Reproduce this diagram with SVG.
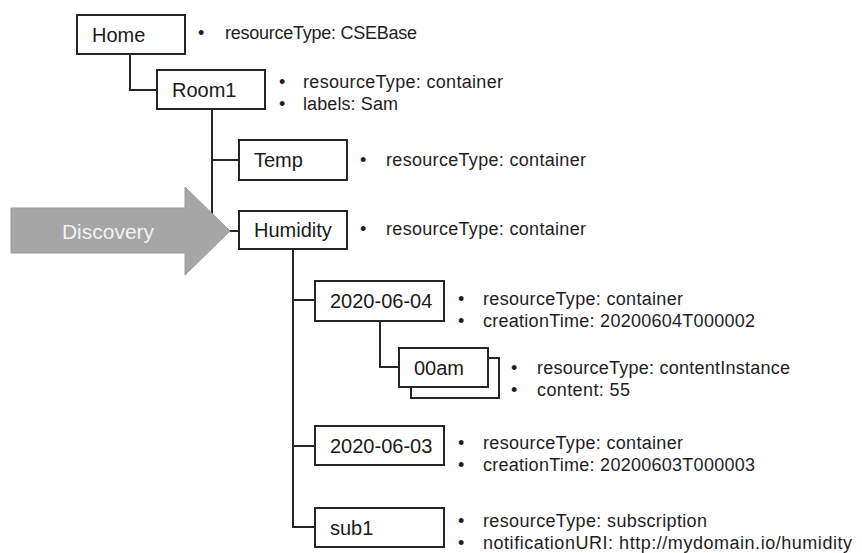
<svg xmlns="http://www.w3.org/2000/svg" width="862" height="553" viewBox="0 0 862 553">
<style>
.box{fill:#fff;stroke:#262626;stroke-width:2}
.lbl{font-family:"Liberation Sans",Arial,sans-serif;font-size:20px;fill:#1a1a1a}
.txt{font-family:"Liberation Sans",Arial,sans-serif;font-size:18px;fill:#1e1e1e}
.con{fill:none;stroke:#262626;stroke-width:2}
</style>
<rect width="862" height="553" fill="#fff"/>
<g id="connectors">
<path class="con" d="M130,54 V90 H157"/>
<path class="con" d="M212,109 V160 H239"/>
<path class="con" d="M212,160 V231 H239"/>
<path class="con" d="M293,249 V527 H315"/>
<path class="con" d="M293,300 H315"/>
<path class="con" d="M293,446 H315"/>
<path class="con" d="M380,321 V367 H399"/>
</g>
<g id="discovery">
<polygon points="11,208 185,208 185,187 230,231 185,275 185,253 11,253" fill="#a6a6a6" stroke="#9a9a9a" stroke-width="1"/>
<text x="108" y="239" text-anchor="middle" font-family="Liberation Sans,Arial,sans-serif" font-size="21" fill="#f2f2f2">Discovery</text>
</g>
<g id="home">
<rect class="box" x="77" y="15" width="108" height="39"/>
<text class="lbl" x="92" y="42">Home</text>
<text class="txt" y="39"><tspan x="198">•</tspan><tspan x="225" textLength="192">resourceType: CSEBase</tspan></text>
</g>
<g id="room1">
<rect class="box" x="157" y="70" width="108" height="39"/>
<text class="lbl" x="172" y="97">Room1</text>
<text class="txt" y="88"><tspan x="279">•</tspan><tspan x="303" textLength="200">resourceType: container</tspan></text>
<text class="txt" y="110"><tspan x="279">•</tspan><tspan x="303" textLength="95">labels: Sam</tspan></text>
</g>
<g id="temp">
<rect class="box" x="239" y="140" width="108" height="40"/>
<text class="lbl" x="254" y="167">Temp</text>
<text class="txt" y="166"><tspan x="360">•</tspan><tspan x="386" textLength="200">resourceType: container</tspan></text>
</g>
<g id="humidity">
<rect class="box" x="239" y="211" width="108" height="38"/>
<text class="lbl" x="254" y="237">Humidity</text>
<text class="txt" y="235"><tspan x="360">•</tspan><tspan x="386" textLength="200">resourceType: container</tspan></text>
</g>
<g id="d20200604">
<rect class="box" x="315" y="281" width="129" height="40"/>
<text class="lbl" x="330" y="308">2020-06-04</text>
<text class="txt" y="305"><tspan x="458">•</tspan><tspan x="483" textLength="200">resourceType: container</tspan></text>
<text class="txt" y="327"><tspan x="458">•</tspan><tspan x="483" textLength="272">creationTime: 20200604T000002</tspan></text>
</g>
<g id="am00">
<rect class="box" x="411" y="358" width="88" height="40"/>
<rect class="box" x="399" y="348" width="89" height="39"/>
<text class="lbl" x="414" y="375">00am</text>
<text class="txt" y="374"><tspan x="511">•</tspan><tspan x="537" textLength="253">resourceType: contentInstance</tspan></text>
<text class="txt" y="396"><tspan x="511">•</tspan><tspan x="537" textLength="93">content: 55</tspan></text>
</g>
<g id="d20200603">
<rect class="box" x="315" y="426" width="129" height="39"/>
<text class="lbl" x="330" y="453">2020-06-03</text>
<text class="txt" y="449"><tspan x="458">•</tspan><tspan x="483" textLength="200">resourceType: container</tspan></text>
<text class="txt" y="471"><tspan x="458">•</tspan><tspan x="483" textLength="272">creationTime: 20200603T000003</tspan></text>
</g>
<g id="sub1">
<rect class="box" x="315" y="508" width="129" height="39"/>
<text class="lbl" x="330" y="535">sub1</text>
<text class="txt" y="527"><tspan x="458">•</tspan><tspan x="483" textLength="224">resourceType: subscription</tspan></text>
<text class="txt" y="549"><tspan x="458">•</tspan><tspan x="483" textLength="369">notificationURI: http://mydomain.io/humidity</tspan></text>
</g>
</svg>
